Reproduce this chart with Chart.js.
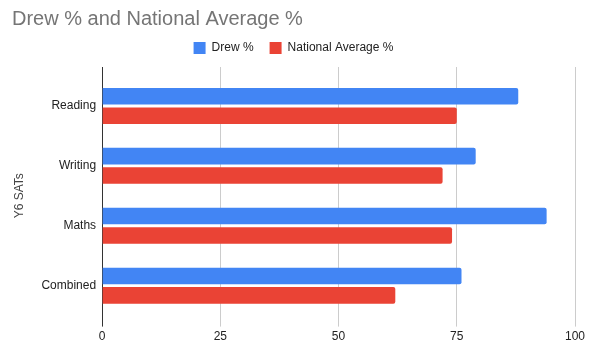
<!DOCTYPE html>
<html>
<head>
<meta charset="utf-8">
<script src="https://cdn.jsdelivr.net/npm/chart.js@4"></script>
<style>
  html, body { margin: 0; padding: 0; background: #fff; }
  #wrap { width: 589px; height: 350px; }
</style>
</head>
<body>
<div id="wrap"><canvas id="chart"></canvas></div>
<script>
/* data */
const categories   = ['Reading', 'Writing', 'Maths', 'Combined'];
const drewPct      = [88, 79, 94, 76];
const nationalPct  = [75, 72, 74, 62];
const xTicks       = [0, 25, 50, 75, 100];

const FONT = "'Liberation Sans', Arial, sans-serif";
const gridColor = (c) => (c.tick && c.tick.value === 0) ? '#333333' : '#cccccc';

new Chart(document.getElementById('chart'), {
  type: 'bar',
  data: {
    labels: categories,
    datasets: [
      { label: 'Drew %', data: drewPct, backgroundColor: '#4285F4', borderRadius: 2, borderSkipped: 'start' },
      { label: 'National Average %', data: nationalPct, backgroundColor: '#EA4335', borderRadius: 2, borderSkipped: 'start' }
    ]
  },
  options: {
    indexAxis: 'y',
    responsive: true, maintainAspectRatio: false,
    animation: false,
    categoryPercentage: 0.65,
    barPercentage: 0.85,
    layout: { padding: { left: 12, right: 14, top: 9, bottom: 3 } },
    plugins: {
      tooltip: { enabled: false },
      title: {
        display: true, text: 'Drew % and National Average %', align: 'start',
        color: '#757575', font: { family: FONT, size: 20, weight: 'normal', lineHeight: 1 },
        padding: { top: 0, bottom: -3, left: 1 }
      },
      legend: {
        position: 'top',
        labels: { boxWidth: 12, boxHeight: 12, padding: 16, color: '#222', font: { family: FONT, size: 12 } }
      }
    },
    scales: {
      x: {
        type: 'linear', min: 0, max: 100,
        afterBuildTicks: (s) => { s.ticks = xTicks.map(v => ({ value: v })); },
        ticks: { color: '#222', font: { family: FONT, size: 12 }, padding: 3 },
        grid: { color: gridColor, tickLength: 11 },
        border: { display: false }
      },
      x2: {
        type: 'linear', position: 'top', min: 0, max: 100,
        afterBuildTicks: (s) => { s.ticks = xTicks.map(v => ({ value: v })); },
        ticks: { display: false },
        grid: { color: gridColor, tickLength: 9, drawOnChartArea: false },
        border: { display: false },
        // empty 3px title: spacer between the legend and the grid stubs
        title: { display: true, text: ' ', font: { size: 3, lineHeight: 1 }, padding: 0 }
      },
      y: {
        grid: { display: false, drawTicks: false },
        border: { color: '#333333' },
        ticks: { color: '#222', font: { family: FONT, size: 12 }, padding: 6 },
        title: { display: true, text: 'Y6 SATs', color: '#444', font: { family: FONT, size: 12 }, padding: { top: 0, bottom: 9 } }
      }
    }
  }
});
</script>
</body>
</html>
